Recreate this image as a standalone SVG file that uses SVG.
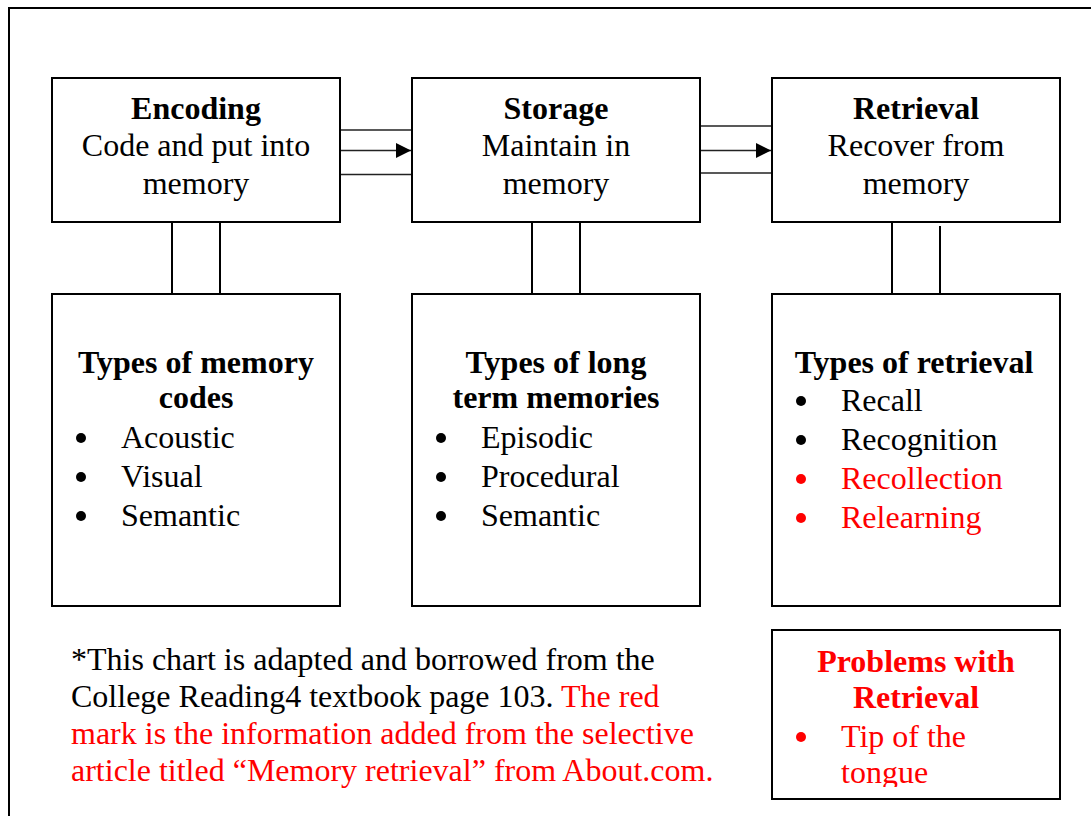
<svg xmlns="http://www.w3.org/2000/svg" width="1091" height="816" viewBox="0 0 1091 816">
  <style>
    .box { fill: #fff; stroke: #000; stroke-width: 2; }
    .frame { fill: none; stroke: #000; stroke-width: 2; }
    .link { stroke: #222; stroke-width: 1.6; fill: none; }
    .drop { stroke: #000; stroke-width: 2; fill: none; }
    .t { font-family: "Liberation Serif", "Times New Roman", serif; font-size: 32px; fill: #000; }
    .b { font-weight: bold; }
    .c { text-anchor: middle; }
    .red { fill: #f00; }
  </style>
  <defs>
    <marker id="arrow" markerWidth="16" markerHeight="16" refX="15" refY="7.5" orient="auto" markerUnits="userSpaceOnUse">
      <path d="M0,0 L15,7.5 L0,15 Z" fill="#000"/>
    </marker>
    <clipPath id="probClip">
      <rect x="772" y="630" width="288" height="157"/>
    </clipPath>
  </defs>
  <rect width="1091" height="816" fill="#fff"/>
  <!-- outer page frame -->
  <path class="frame" d="M9,830 L9,8 L1100,8"/>

  <!-- connectors -->
  <g id="connectors">
    <line class="link" x1="340" y1="130" x2="412" y2="130"/>
    <line class="link" x1="340" y1="150.5" x2="411" y2="150.5" marker-end="url(#arrow)"/>
    <line class="link" x1="340" y1="174.5" x2="412" y2="174.5"/>
    <line class="link" x1="700" y1="126" x2="772" y2="126"/>
    <line class="link" x1="700" y1="150.5" x2="771" y2="150.5" marker-end="url(#arrow)"/>
    <line class="link" x1="700" y1="173" x2="772" y2="173"/>
    <line class="drop" x1="172" y1="222" x2="172" y2="294"/>
    <line class="drop" x1="220" y1="222" x2="220" y2="294"/>
    <line class="drop" x1="532" y1="222" x2="532" y2="294"/>
    <line class="drop" x1="580" y1="222" x2="580" y2="294"/>
    <line class="drop" x1="892" y1="222" x2="892" y2="294"/>
    <line class="drop" x1="940" y1="226" x2="940" y2="298"/>
  </g>

  <g id="encoding">
    <rect class="box" x="52" y="78" width="288" height="144"/>
    <text class="t b c" x="196" y="119">Encoding</text>
    <text class="t c" x="196" y="156">Code and put into</text>
    <text class="t c" x="196" y="194">memory</text>
  </g>
  <g id="storage">
    <rect class="box" x="412" y="78" width="288" height="144"/>
    <text class="t b c" x="556" y="119">Storage</text>
    <text class="t c" x="556" y="156">Maintain in</text>
    <text class="t c" x="556" y="194">memory</text>
  </g>
  <g id="retrieval">
    <rect class="box" x="772" y="78" width="288" height="144"/>
    <text class="t b c" x="916" y="119">Retrieval</text>
    <text class="t c" x="916" y="156">Recover from</text>
    <text class="t c" x="916" y="194">memory</text>
  </g>

  <g id="memory-codes">
    <rect class="box" x="52" y="294" width="288" height="312"/>
    <text class="t b c" x="196" y="373">Types of memory</text>
    <text class="t b c" x="196" y="408">codes</text>
    <circle cx="81" cy="438" r="5"/>
    <text class="t" x="121" y="448">Acoustic</text>
    <circle cx="81" cy="477" r="5"/>
    <text class="t" x="121" y="487">Visual</text>
    <circle cx="81" cy="516" r="5"/>
    <text class="t" x="121" y="526">Semantic</text>
  </g>
  <g id="long-term">
    <rect class="box" x="412" y="294" width="288" height="312"/>
    <text class="t b c" x="556" y="373">Types of long</text>
    <text class="t b c" x="556" y="408">term memories</text>
    <circle cx="441" cy="438" r="5"/>
    <text class="t" x="481" y="448">Episodic</text>
    <circle cx="441" cy="477" r="5"/>
    <text class="t" x="481" y="487">Procedural</text>
    <circle cx="441" cy="516" r="5"/>
    <text class="t" x="481" y="526">Semantic</text>
  </g>
  <g id="retrieval-types">
    <rect class="box" x="772" y="294" width="288" height="312"/>
    <text class="t b c" x="914" y="373">Types of retrieval</text>
    <circle cx="801" cy="401" r="5"/>
    <text class="t" x="841" y="411">Recall</text>
    <circle cx="801" cy="440" r="5"/>
    <text class="t" x="841" y="450">Recognition</text>
    <circle cx="801" cy="479" r="5" fill="#f00"/>
    <text class="t red" x="841" y="489">Recollection</text>
    <circle cx="801" cy="518" r="5" fill="#f00"/>
    <text class="t red" x="841" y="528">Relearning</text>
  </g>
  <g id="problems">
    <rect class="box" x="772" y="630" width="288" height="169"/>
    <text class="t b c red" x="916" y="672">Problems with</text>
    <text class="t b c red" x="916" y="708">Retrieval</text>
    <circle cx="801" cy="737" r="5" fill="#f00"/>
    <g clip-path="url(#probClip)">
      <text class="t red" x="841" y="747">Tip of the</text>
      <text class="t red" x="841" y="783">tongue</text>
    </g>
  </g>

  <g id="note">
    <text class="t" x="71" y="670">*This chart is adapted and borrowed from the</text>
    <text class="t" x="71" y="707">College Reading4 textbook page 103. <tspan class="red">The red</tspan></text>
    <text class="t red" x="71" y="744">mark is the information added from the selective</text>
    <text class="t red" x="71" y="781">article titled “Memory retrieval” from About.com.</text>
  </g>
</svg>
